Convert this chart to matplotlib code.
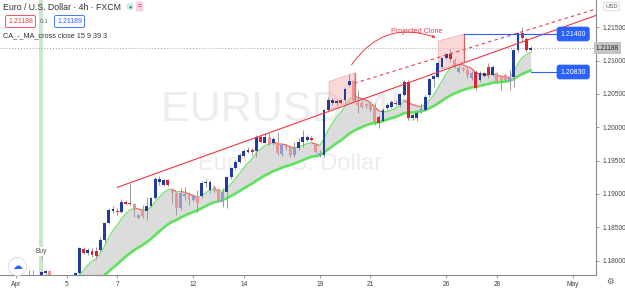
import numpy as np
import pandas as pd
import matplotlib
matplotlib.use("Agg")
import matplotlib.pyplot as plt
from matplotlib.patches import Polygon, FancyArrowPatch
from matplotlib.collections import LineCollection

plt.rcParams['font.family'] = ['Liberation Sans', 'DejaVu Sans']

# EURUSD 4h (FXCM), bar 0 = 1 Apr 2021 00:00, weekends skipped
open_ = [1.17380, 1.17455, 1.17575, 1.17680, 1.17740, 1.17725, 1.17755, 1.17815, 1.17845, 1.17710,
         1.17470, 1.17530, 1.17575, 1.17620, 1.17725, 1.17810, 1.18180, 1.18120, 1.18152, 1.18145,
         1.18160, 1.18310, 1.18570, 1.18740, 1.18745, 1.18734, 1.18876, 1.18870, 1.18850, 1.18636,
         1.18760, 1.18750, 1.18820, 1.18936, 1.19184, 1.19135, 1.19210, 1.19060, 1.19010, 1.18786,
         1.18970, 1.18985, 1.18910, 1.18960, 1.18970, 1.19160, 1.19060, 1.19110, 1.19070, 1.18884,
         1.19034, 1.19250, 1.19386, 1.19484, 1.19570, 1.19634, 1.19660, 1.19650, 1.19860, 1.19770,
         1.19860, 1.19765, 1.19784, 1.19600, 1.19720, 1.19705, 1.19585, 1.19690, 1.19784, 1.19810,
         1.19836, 1.19735, 1.19585, 1.19585, 1.20260, 1.20360, 1.20360, 1.20410, 1.20410, 1.20635,
         1.20700, 1.20370, 1.20360, 1.20350, 1.20360, 1.20286, 1.20160, 1.20100, 1.20286, 1.20310,
         1.20365, 1.20335, 1.20485, 1.20680, 1.20136, 1.20140, 1.20234, 1.20260, 1.20485, 1.20720,
         1.20760, 1.20910, 1.21036, 1.21100, 1.21010, 1.20834, 1.20886, 1.20860, 1.20736, 1.20834,
         1.20710, 1.20770, 1.20910, 1.20785, 1.20810, 1.20736, 1.20785, 1.20695, 1.20760, 1.21160,
         1.21420, 1.21332, 1.21160]
high = [1.17470, 1.17590, 1.17710, 1.17860, 1.17860, 1.17778, 1.17845, 1.17860, 1.17860, 1.17740,
        1.17590, 1.17620, 1.17665, 1.17755, 1.17830, 1.18210, 1.18210, 1.18190, 1.18190, 1.18200,
        1.18355, 1.18584, 1.18790, 1.18820, 1.18790, 1.18918, 1.18910, 1.19170, 1.18860, 1.18700,
        1.18835, 1.18960, 1.18960, 1.19250, 1.19270, 1.19225, 1.19225, 1.19070, 1.19034, 1.19090,
        1.19110, 1.19030, 1.18985, 1.19060, 1.19195, 1.19220, 1.19210, 1.19135, 1.19086, 1.19086,
        1.19270, 1.19405, 1.19510, 1.19615, 1.19675, 1.19700, 1.19690, 1.19885, 1.19900, 1.19910,
        1.19910, 1.19855, 1.19934, 1.19765, 1.19750, 1.19735, 1.19784, 1.19836, 1.19960, 1.19885,
        1.19870, 1.19760, 1.19660, 1.20270, 1.20460, 1.20440, 1.20425, 1.20425, 1.20610, 1.20800,
        1.20710, 1.20560, 1.20395, 1.20365, 1.20380, 1.20360, 1.20185, 1.20290, 1.20365, 1.20410,
        1.20410, 1.20520, 1.20710, 1.20710, 1.20215, 1.20260, 1.20360, 1.20485, 1.20736, 1.20785,
        1.20995, 1.21055, 1.21115, 1.21170, 1.21040, 1.20920, 1.20905, 1.20910, 1.20845, 1.20860,
        1.20845, 1.20830, 1.20960, 1.20935, 1.20830, 1.20785, 1.20815, 1.20860, 1.21160, 1.21434,
        1.21510, 1.21355, 1.21220]
low = [1.17335, 1.17425, 1.17530, 1.17635, 1.17665, 1.17635, 1.17725, 1.17770, 1.17650, 1.17410,
       1.17410, 1.17485, 1.17530, 1.17590, 1.17695, 1.17800, 1.18100, 1.18085, 1.18055, 1.18020,
       1.18134, 1.18284, 1.18550, 1.18720, 1.18685, 1.18715, 1.18835, 1.18835, 1.18650, 1.18620,
       1.18636, 1.18610, 1.18810, 1.18920, 1.19135, 1.19120, 1.19120, 1.18870, 1.18685, 1.18760,
       1.18910, 1.18835, 1.18895, 1.18734, 1.18940, 1.19110, 1.19010, 1.19030, 1.18884, 1.18810,
       1.18790, 1.19225, 1.19360, 1.19465, 1.19555, 1.19610, 1.19585, 1.19560, 1.19765, 1.19760,
       1.19735, 1.19735, 1.19585, 1.19570, 1.19660, 1.19555, 1.19560, 1.19660, 1.19710, 1.19795,
       1.19795, 1.19610, 1.19560, 1.19560, 1.20234, 1.20335, 1.20335, 1.20350, 1.20384, 1.20610,
       1.20384, 1.20210, 1.20290, 1.20286, 1.20234, 1.20035, 1.19986, 1.20080, 1.20260, 1.20290,
       1.20320, 1.20310, 1.20470, 1.20110, 1.20110, 1.20095, 1.20210, 1.20245, 1.20460, 1.20610,
       1.20740, 1.20890, 1.21025, 1.20984, 1.20890, 1.20815, 1.20845, 1.20736, 1.20710, 1.20560,
       1.20680, 1.20755, 1.20736, 1.20770, 1.20665, 1.20560, 1.20680, 1.20560, 1.20610, 1.21134,
       1.21284, 1.21130, 1.21145]
close = [1.17455, 1.17575, 1.17680, 1.17740, 1.17725, 1.17770, 1.17830, 1.17845, 1.17710, 1.17470,
         1.17530, 1.17575, 1.17620, 1.17725, 1.17820, 1.18186, 1.18120, 1.18160, 1.18092, 1.18070,
         1.18310, 1.18570, 1.18760, 1.18770, 1.18726, 1.18876, 1.18850, 1.18846, 1.18760, 1.18685,
         1.18670, 1.18820, 1.18936, 1.19220, 1.19220, 1.19210, 1.19135, 1.19020, 1.18786, 1.19010,
         1.19000, 1.18910, 1.18970, 1.18860, 1.19160, 1.19184, 1.19184, 1.19060, 1.18910, 1.19034,
         1.19250, 1.19386, 1.19484, 1.19585, 1.19645, 1.19660, 1.19634, 1.19860, 1.19784, 1.19860,
         1.19746, 1.19825, 1.19610, 1.19735, 1.19690, 1.19585, 1.19686, 1.19780, 1.19850, 1.19850,
         1.19810, 1.19634, 1.19615, 1.20260, 1.20410, 1.20410, 1.20400, 1.20370, 1.20570, 1.20700,
         1.20410, 1.20335, 1.20310, 1.20320, 1.20260, 1.20084, 1.20070, 1.20260, 1.20335, 1.20384,
         1.20350, 1.20496, 1.20680, 1.20140, 1.20185, 1.20215, 1.20290, 1.20460, 1.20720, 1.20770,
         1.20970, 1.21036, 1.21096, 1.21020, 1.20910, 1.20886, 1.20860, 1.20785, 1.20810, 1.20586,
         1.20810, 1.20810, 1.20785, 1.20910, 1.20684, 1.20710, 1.20710, 1.20740, 1.21160, 1.21420,
         1.21336, 1.21160, 1.21188]

# late March closes (off chart), only used to seed the moving averages
prior_close = [1.1768, 1.1772, 1.1765, 1.1770, 1.1762, 1.1758, 1.1760, 1.1752, 1.1748, 1.1741,
               1.1737, 1.1745, 1.1749, 1.1742, 1.1738, 1.1731, 1.1726, 1.1720, 1.1714, 1.1722,
               1.1730, 1.1728, 1.1735, 1.1741, 1.1738, 1.1733, 1.1729, 1.1736, 1.1732, 1.1737]

fast_len = 9
slow_len = 39

day_ticks = [0, 12, 24, 42, 54, 72, 84, 102, 114, 132]
day_labels = ['Apr', '5', '7', '12', '14', '19', '21', '26', '28', 'May']
price_ticks = [1.180, 1.185, 1.190, 1.195, 1.200, 1.205, 1.210, 1.215]

buy_bar = 6
level_hi = 1.21400
level_lo = 1.20830
bid, ask = 1.21188, 1.21189


def wma(s, n):
    w = np.arange(1, n + 1)
    return s.rolling(n).apply(lambda a: np.dot(a, w) / w.sum(), raw=True)


o = np.array(open_)
h = np.array(high)
l = np.array(low)
c = np.array(close)
x = np.arange(len(c))

allc = pd.Series(prior_close + close)
fast = wma(allc, fast_len).values[len(prior_close):]
slow = wma(allc, slow_len).values[len(prior_close):]

fig = plt.figure(figsize=(6.25, 2.88), dpi=100)
ax = fig.add_axes([0, 13 / 288, 596 / 625, 275 / 288])
ax.set_xlim(-3.8, 137.5)
ax.set_ylim(1.17785, 1.21910)

# watermark
ax.text(0.483, 0.60, 'EURUSD, 4h', transform=ax.transAxes, fontsize=31,
        color='#ededed', ha='center', va='center', zorder=0)
ax.text(0.487, 0.405, 'Euro / U.S. Dollar', transform=ax.transAxes, fontsize=17,
        color='#ededed', ha='center', va='center', zorder=0)

# buy signal bar
ax.axvspan(buy_bar - 0.5, buy_bar + 0.5, color='#c9e7c9', lw=0, zorder=0.5)
ax.text(buy_bar, 1.18138, 'Buy', fontsize=4.8, color='#555', ha='center', va='center',
        bbox=dict(boxstyle='square,pad=0.1', fc='white', ec='none'), zorder=6)
ax.text(buy_bar, 1.18040, '↑', fontsize=4.5, color='#555', ha='center', va='center', zorder=6)

# MA cloud
ax.fill_between(x, slow, fast, color='#dcdcdc', lw=0, zorder=1)
ax.plot(x, slow, color='#5fe35f', lw=1.9, zorder=2)
pts = np.column_stack([x, fast])
segs = np.stack([pts[:-1], pts[1:]], axis=1)
seg_col = np.where(np.diff(fast) < 0, '#f0605a', '#72e072')
ax.add_collection(LineCollection(segs, colors=seg_col, linewidths=0.9, zorder=2))

# candles
up = c >= o
inside = (c < fast) & (c > slow)
body_col = np.where(up, np.where(inside, '#8b9cd3', '#1f3c9e'),
                    np.where(inside, '#ec9393', '#d9252f'))
ax.vlines(x, l, h, color='#9a9a9a', lw=0.7, zorder=3)
minh = 0.00012
bh = np.abs(c - o)
bot = np.minimum(o, c) - np.clip(minh - bh, 0, None) / 2
ax.bar(x, np.maximum(bh, minh), bottom=bot, width=0.68, color=body_col, lw=0, zorder=4)

# current price line
ax.axhline(c[-1], color='#9e9e9e', lw=0.7, ls=(0, (1, 2)), zorder=2)

# trend lines
x_end = 137.5
t0, p0, t1, p1 = 24.0, 1.19100, 129.0, 1.21486
ax.plot([t0, x_end], [p0, p0 + (p1 - p0) / (t1 - t0) * (x_end - t0)], color='#f23645', lw=0.8, zorder=5)
d0, q0, d1, q1 = 80.2, 1.20661, 129.0, 1.21610
ax.plot([d0, x_end], [q0, q0 + (q1 - q0) / (d1 - d0) * (x_end - d0)], color='#f23645', lw=0.8,
        ls=(0, (3, 3)), zorder=5)

# projected clone boxes
box_src = [(74.2, 1.20260), (74.2, 1.20685), (80.3, 1.20820), (80.3, 1.20410)]
box_dst = [(100.1, 1.20860), (100.1, 1.21295), (106.3, 1.21400), (106.3, 1.20985)]
for b in (box_src, box_dst):
    ax.add_patch(Polygon(b, closed=True, fc='#f6b8b8', alpha=0.55, ec='#ef8a8a', lw=0.6, zorder=2.5))
    ax.plot([b[2][0], b[3][0]], [b[2][1], b[3][1]], color='#e06060', lw=0.9, zorder=5)
ax.add_patch(FancyArrowPatch((79.2, 1.20905), (100.1, 1.21333), connectionstyle='arc3,rad=-0.4',
                             arrowstyle='-|>', mutation_scale=4, color='#f23645', lw=0.7, zorder=6))
ax.text(95.1, 1.21435, 'Projected Clone', fontsize=5.2, color='#f23645', ha='center', va='center', zorder=6)

# horizontal levels with labels
ax.plot([106.3, 128.05], [level_hi, level_hi], color='#2962ff', lw=0.8, zorder=5)
ax.plot([x[-1], 128.05], [level_lo, level_lo], color='#2962ff', lw=0.8, zorder=5)
for lv in (level_hi, level_lo):
    ax.text(132.1, lv, f'{lv:.5f}', fontsize=5, color='white', ha='center', va='center', zorder=7,
            bbox=dict(boxstyle='round,pad=0.55,rounding_size=0.4', fc='#2962ff', ec='none'))

# axes styling
for s in ('top', 'left'):
    ax.spines[s].set_visible(False)
for s in ('bottom', 'right'):
    ax.spines[s].set_color('#8a8a8a')
    ax.spines[s].set_linewidth(0.8)
ax.yaxis.tick_right()
ax.set_yticks(price_ticks)
ax.set_yticklabels([f'{v:.5f}' for v in price_ticks])
ax.set_xticks(day_ticks)
ax.set_xticklabels(day_labels)
ax.tick_params(axis='both', length=2.5, width=0.6, colors='#8a8a8a', labelcolor='#444',
               labelsize=4.8, pad=2)

ax.text(1.0, c[-1], f'{c[-1]:.5f}', transform=ax.get_yaxis_transform(), ha='left', va='center',
        fontsize=4.8, color='#222', zorder=10, clip_on=False,
        bbox=dict(boxstyle='square,pad=0.35', fc='#c4c4c4', ec='none'))

# header


def fx(px):
    return px / 625


def fy(py):
    return 1 - py / 288


fig.text(fx(3), fy(7.5), 'Euro / U.S. Dollar · 4h · FXCM', fontsize=6.3, color='#333', va='center')
fig.text(fx(130), fy(6.5), '●', fontsize=4, color='#0f9d7f', ha='center', va='center',
         bbox=dict(boxstyle='circle,pad=0.25', fc='#cfeee6', ec='none'))
fig.text(fx(139.5), fy(6.5), '=', fontsize=5, color='#c2185b', ha='center', va='center',
         bbox=dict(boxstyle='round,pad=0.25', fc='#fbd3dd', ec='none'))
fig.text(fx(20.5), fy(21.5), f'{bid:.5f}', fontsize=5, color='#f23645', ha='center', va='center',
         bbox=dict(boxstyle='round,pad=0.35,rounding_size=0.2', fc='white', ec='#f23645', lw=0.6))
fig.text(fx(44), fy(21.5), '0.1', fontsize=4.5, color='#666', ha='center', va='center')
fig.text(fx(69.5), fy(21.5), f'{ask:.5f}', fontsize=5, color='#2962ff', ha='center', va='center',
         bbox=dict(boxstyle='round,pad=0.35,rounding_size=0.2', fc='white', ec='#2962ff', lw=0.6))
fig.text(fx(3), fy(36), 'CA_-_MA_cross close 15 9 39 3', fontsize=5.2, color='#333', va='center')
fig.text(fx(611.5), fy(6.5), 'USD', fontsize=4.3, color='#555', ha='center', va='center',
         bbox=dict(boxstyle='round,pad=0.3', fc='white', ec='#cfcfcf', lw=0.5))
fig.text(fx(610), fy(282), '⚙', fontsize=6, color='#555', ha='center', va='center')
ax.plot([17 / 596], [1 - 266 / 275], 'o', ms=13, mfc='white', mec='#e2e2e2', mew=0.8,
        transform=ax.transAxes, zorder=8, clip_on=False)
ax.text(17 / 596, 1 - 266 / 275, '☁', fontsize=7, color='#2962ff', ha='center', va='center',
        transform=ax.transAxes, zorder=9)

fig.savefig('out.png', dpi=100, facecolor='white')
